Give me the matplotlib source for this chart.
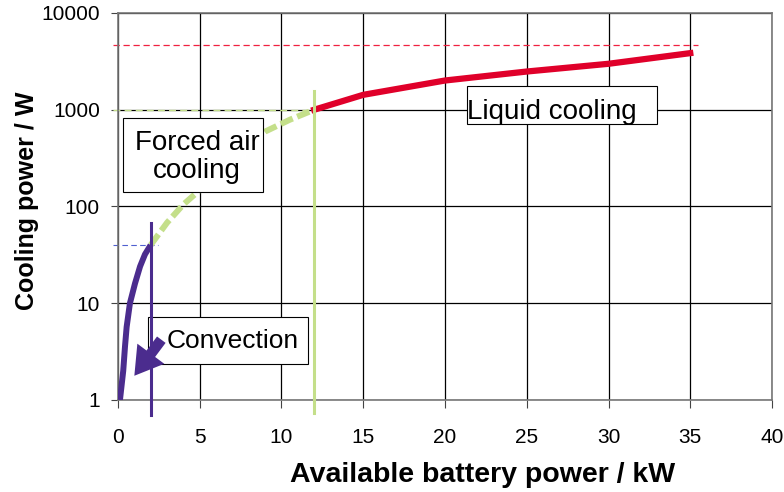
import numpy as np
import matplotlib
matplotlib.use("Agg")
import matplotlib.pyplot as plt
from matplotlib.patches import Rectangle, FancyArrowPatch

plt.rcParams['font.family'] = ['Liberation Sans', 'DejaVu Sans']

# convection branch (kW, W)
conv_x = [0.12, 0.32, 0.43, 0.53, 0.73, 1.04, 1.35, 1.65, 2.0]
conv_y = [1, 2, 3.6, 5.7, 10, 16, 24, 32, 40]

# forced air branch
air_x = [2, 3, 4, 4.8, 6, 7, 8, 9, 10.5, 12]
air_y = [40, 68, 105, 138, 220, 320, 440, 595, 787, 1000]

# liquid cooling branch
liq_x = [12, 15, 20, 25, 30, 35]
liq_y = [1000, 1426, 2005, 2483, 2985, 3847]

# limits of each regime
conv_limit_x, conv_limit_y = 2, 40
air_limit_x, air_limit_y = 12, 1000
liq_limit_x, liq_limit_y = 35.5, 4700

xticks = [0, 5, 10, 15, 20, 25, 30, 35, 40]
yticks = [1, 10, 100, 1000, 10000]

purple = '#4B2C8E'
green = '#C4DF8A'
red = '#E0002A'

fig = plt.figure(figsize=(7.84, 4.92), dpi=100)
ax = fig.add_axes([0.1505, 0.187, 0.8342, 0.7866])

ax.set_yscale('log')
ax.set_xlim(0, 40)
ax.set_ylim(1, 10000)
ax.set_xticks(xticks)
ax.set_xticklabels([str(t) for t in xticks])
ax.set_yticks(yticks)
ax.set_yticklabels([str(t) for t in yticks])
ax.minorticks_off()
ax.grid(True, color='black', lw=0.9)
ax.set_axisbelow(True)
for s in ax.spines.values():
    s.set_color('#777777')
    s.set_linewidth(1.2)
ax.tick_params(labelsize=15, length=5, color='#444444')
ax.tick_params(axis='y', pad=8)
ax.tick_params(axis='x', pad=14, length=6)

# thin dashed guide lines
ax.plot([-0.3, 2.45], [conv_limit_y, conv_limit_y], color='#4F5FD0', lw=0.8,
        ls=(0, (5, 3)), clip_on=False)
ax.plot([-0.3, air_limit_x], [air_limit_y, air_limit_y], color=green, lw=1.0,
        ls=(0, (5, 3)), clip_on=False)
ax.plot([-0.3, liq_limit_x], [liq_limit_y, liq_limit_y], color='#F02040', lw=0.9,
        ls=(0, (5, 3)), clip_on=False)

# vertical regime limits
ax.plot([conv_limit_x, conv_limit_x], [0.7, 68], color=purple, lw=2.2, clip_on=False, zorder=4)
ax.plot([air_limit_x, air_limit_x], [0.73, 1550], color=green, lw=2.2, clip_on=False, zorder=4)

# curves
ax.plot(conv_x, conv_y, color=purple, lw=4.3, solid_capstyle='butt', zorder=3)
ax.plot(air_x, air_y, color=green, lw=4.3, ls=(0, (2.2, 0.8)), zorder=3)
ax.plot(liq_x, liq_y, color=red, lw=4.5, zorder=3)

# text boxes
tr = ax.transAxes
ax.add_patch(Rectangle((0.0076, 0.538), 0.2137, 0.1915, transform=tr,
                       facecolor='white', edgecolor='black', lw=0.8, zorder=5))
ax.text(0.121, 0.628, 'Forced air\ncooling', transform=tr, fontsize=20,
        ha='center', va='center', linespacing=1.1, zorder=6)

ax.add_patch(Rectangle((0.533, 0.713), 0.291, 0.098, transform=tr,
                       facecolor='white', edgecolor='black', lw=0.8, zorder=5))
ax.text(0.5336, 0.725, 'Liquid cooling', transform=tr, fontsize=20,
        ha='left', va='baseline', zorder=6)

ax.add_patch(Rectangle((0.0454, 0.093), 0.2451, 0.1215, transform=tr,
                       facecolor='white', edgecolor='black', lw=0.8, zorder=2))
ax.text(0.0745, 0.1336, 'Convection', transform=tr, fontsize=19,
        ha='left', va='baseline', zorder=6)

arrow = FancyArrowPatch((2.65, 4.2), (1.0, 1.78),
                        arrowstyle='simple,head_length=0.9,head_width=1.1,tail_width=0.35',
                        mutation_scale=22, color=purple, lw=0,
                        shrinkA=0, shrinkB=0, zorder=6)
ax.add_patch(arrow)

ax.set_xlabel('Available battery power / kW', fontsize=20.5, fontweight='bold')
ax.xaxis.set_label_coords(0.557, -0.194)
ax.xaxis.label.set_va('center')
ax.set_ylabel('Cooling power / W', fontsize=18, fontweight='bold')
ax.yaxis.set_label_coords(-0.139, 0.514)
ax.yaxis.label.set_va('center')

fig.savefig('out.png', dpi=100)
